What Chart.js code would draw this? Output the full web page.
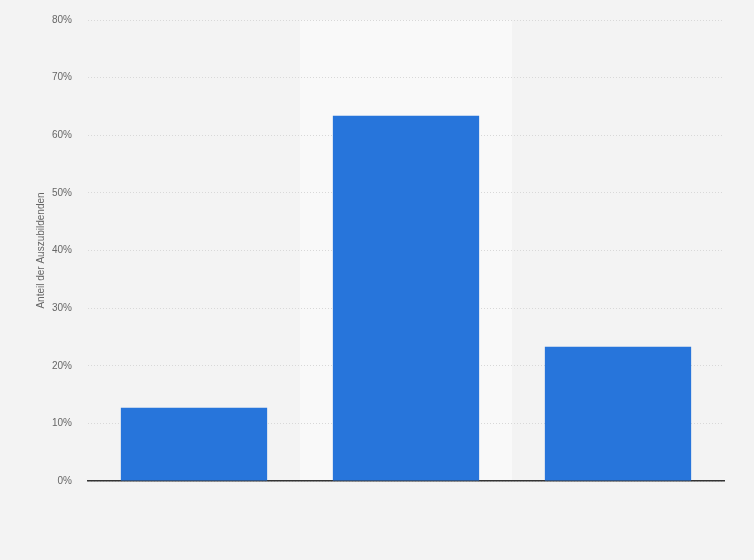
<!DOCTYPE html>
<html lang="de">
<head>
    <meta charset="UTF-8">
    <title>Anteil der Auszubildenden</title>
    <style>
        body, html {
            margin: 0;
            padding: 0;
            background: #f3f3f3;
            overflow: hidden;
        }
        .chart-container {
            width: 754px;
            height: 562px;
            margin-top: -2px;
        }
    </style>
    <script src="https://cdn.jsdelivr.net/npm/chart.js"></script>
</head>
<body>
    <div class="chart-container">
        <canvas id="shareChart"></canvas>
    </div>
    <script>
        // no category labels are shown in the picture
        const categories = ['', '', ''];
        const shares = [12.7, 63.4, 23.3];
        const yTicks = [0, 10, 20, 30, 40, 50, 60, 70, 80];
        const highlightIndex = 1;

        // light band behind the highlighted column
        const bandPlugin = {
            id: 'band',
            beforeDraw(chart) {
                const x = chart.scales.x;
                const area = chart.chartArea;
                const step = (area.right - area.left) / categories.length;
                const cx = x.getPixelForValue(highlightIndex);
                const ctx = chart.ctx;
                ctx.save();
                ctx.fillStyle = '#f9f9f9';
                ctx.fillRect(cx - step / 2, area.top, step, area.bottom - area.top);
                ctx.restore();
            }
        };

        const ctx = document.getElementById('shareChart').getContext('2d');
        new Chart(ctx, {
            type: 'bar',
            data: {
                labels: categories,
                datasets: [{
                    data: shares,
                    backgroundColor: '#2775db',
                    borderWidth: 0,
                    barPercentage: 0.69,
                    categoryPercentage: 1
                }]
            },
            options: {
                responsive: true,
                maintainAspectRatio: false,
                animation: false,
                layout: {
                    padding: { left: 31, right: 30, top: 10, bottom: 79 }
                },
                plugins: {
                    legend: { display: false },
                    tooltip: { enabled: false }
                },
                scales: {
                    x: {
                        grid: { display: false, drawTicks: false },
                        border: { display: true, color: '#333', width: 1.5 },
                        ticks: { display: false }
                    },
                    y: {
                        min: 0,
                        max: 80,
                        afterBuildTicks(scale) {
                            scale.ticks = yTicks.map(v => ({ value: v }));
                        },
                        afterFit(scale) {
                            scale.width = 57;
                        },
                        grid: { color: '#d8d8d8', drawTicks: false },
                        border: { display: false, dash: [1, 2] },
                        ticks: {
                            padding: 16,
                            color: '#666',
                            font: { family: 'Liberation Sans, Arial', size: 10 },
                            callback: v => v + '%'
                        },
                        title: {
                            display: true,
                            text: 'Anteil der Auszubildenden',
                            color: '#666',
                            font: { family: 'Liberation Sans, Arial', size: 10 },
                            padding: { top: 4, bottom: 4 }
                        }
                    }
                }
            },
            plugins: [bandPlugin]
        });
    </script>
</body>
</html>
